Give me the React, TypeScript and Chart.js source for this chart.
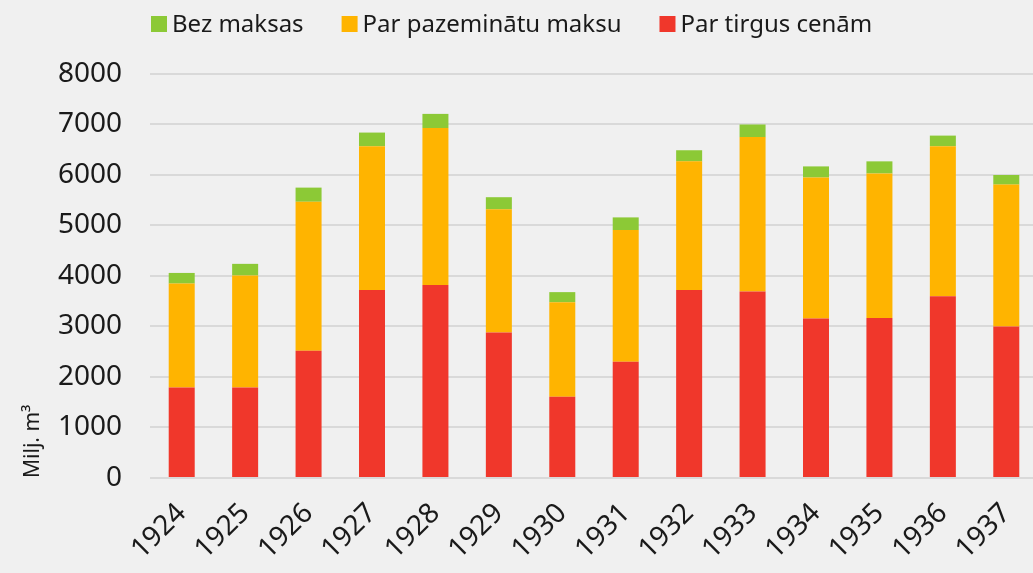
import React, { useEffect, useRef } from "react";
import { Chart, registerables } from "chart.js";

Chart.register(...registerables);

const years = ["1924", "1925", "1926", "1927", "1928", "1929", "1930", "1931", "1932", "1933", "1934", "1935", "1936", "1937"];
const tirgus = [1790, 1790, 2520, 3720, 3820, 2880, 1610, 2300, 3720, 3690, 3160, 3170, 3600, 3000];
const pazeminatu = [2060, 2220, 2950, 2850, 3110, 2440, 1870, 2610, 2550, 3060, 2790, 2860, 2970, 2810];
const bezMaksas = [210, 230, 280, 270, 280, 240, 200, 250, 220, 250, 220, 240, 210, 190];
const yTicks = [0, 1000, 2000, 3000, 4000, 5000, 6000, 7000, 8000];

const FONT = "'Noto Sans', sans-serif";
const TEXT = "#1a1a1a";

const legendPlugin = {
  id: "topLegend",
  afterDraw(chart: any) {
    const ctx = chart.ctx;
    const datasets = [...chart.data.datasets].reverse();
    let x = chart.chartArea.left + 1;
    const boxY = 16;
    const box = 16;
    ctx.save();
    ctx.font = `24px ${FONT}`;
    ctx.textBaseline = "middle";
    ctx.textAlign = "left";
    for (const ds of datasets) {
      ctx.fillStyle = ds.backgroundColor;
      ctx.fillRect(x, boxY, box, box);
      const tx = x + box + 5;
      ctx.fillStyle = TEXT;
      ctx.fillText(ds.label, tx, boxY + box / 2 + 1);
      x = tx + ctx.measureText(ds.label).width + 38;
    }
    ctx.restore();
  },
};

export default function App() {
  const ref = useRef<HTMLCanvasElement>(null);
  useEffect(() => {
    document.body.style.margin = "0";
    document.body.style.background = "#f0f0f0";
    const chart = new Chart(ref.current!, {
      type: "bar",
      data: {
        labels: years,
        datasets: [
          { label: "Par tirgus cenām", data: tirgus, backgroundColor: "#f0372b" },
          { label: "Par pazeminātu maksu", data: pazeminatu, backgroundColor: "#ffb400" },
          { label: "Bez maksas", data: bezMaksas, backgroundColor: "#8cc936" },
        ],
      },
      plugins: [legendPlugin],
      options: {
        animation: false,
        responsive: false,
        maintainAspectRatio: false,
        layout: { padding: { left: 8, right: 0, top: 74, bottom: -12 } },
        datasets: { bar: { barPercentage: 0.41, categoryPercentage: 1 } },
        plugins: {
          legend: { display: false },
          tooltip: { enabled: false },
        },
        scales: {
          x: {
            stacked: true,
            grid: { display: false, drawTicks: false },
            border: { display: false },
            afterFit: (axis: any) => {
              axis.paddingLeft = 0;
              axis.paddingRight = 0;
            },
            ticks: {
              autoSkip: false,
              maxRotation: 45,
              minRotation: 45,
              padding: 19,
              color: TEXT,
              font: { family: FONT, size: 28 },
            },
          },
          y: {
            stacked: true,
            min: 0,
            max: 8000,
            afterBuildTicks: (axis: any) => {
              axis.ticks = yTicks.map((v) => ({ value: v }));
            },
            afterFit: (axis: any) => {
              axis.width = 142;
              axis.paddingTop = 0;
              axis.paddingBottom = 0;
            },
            grid: { color: "#d9d9d9", lineWidth: 2, drawTicks: false },
            border: { display: false },
            ticks: {
              padding: 28,
              color: TEXT,
              font: { family: FONT, size: 28 },
              callback: (v: any) => String(v),
            },
            title: {
              display: true,
              text: "Milj. m³",
              align: "start",
              color: TEXT,
              font: { family: FONT, size: 21 },
              padding: { top: 12, bottom: 12 },
            },
          },
        },
      },
    });
    return () => chart.destroy();
  }, []);
  return (
    <div style={{ position: "fixed", left: 0, top: 0, width: 1033, height: 573, overflow: "hidden", background: "#f0f0f0" }}>
      <canvas ref={ref} width={1038} height={573} style={{ display: "block" }} />
    </div>
  );
}
